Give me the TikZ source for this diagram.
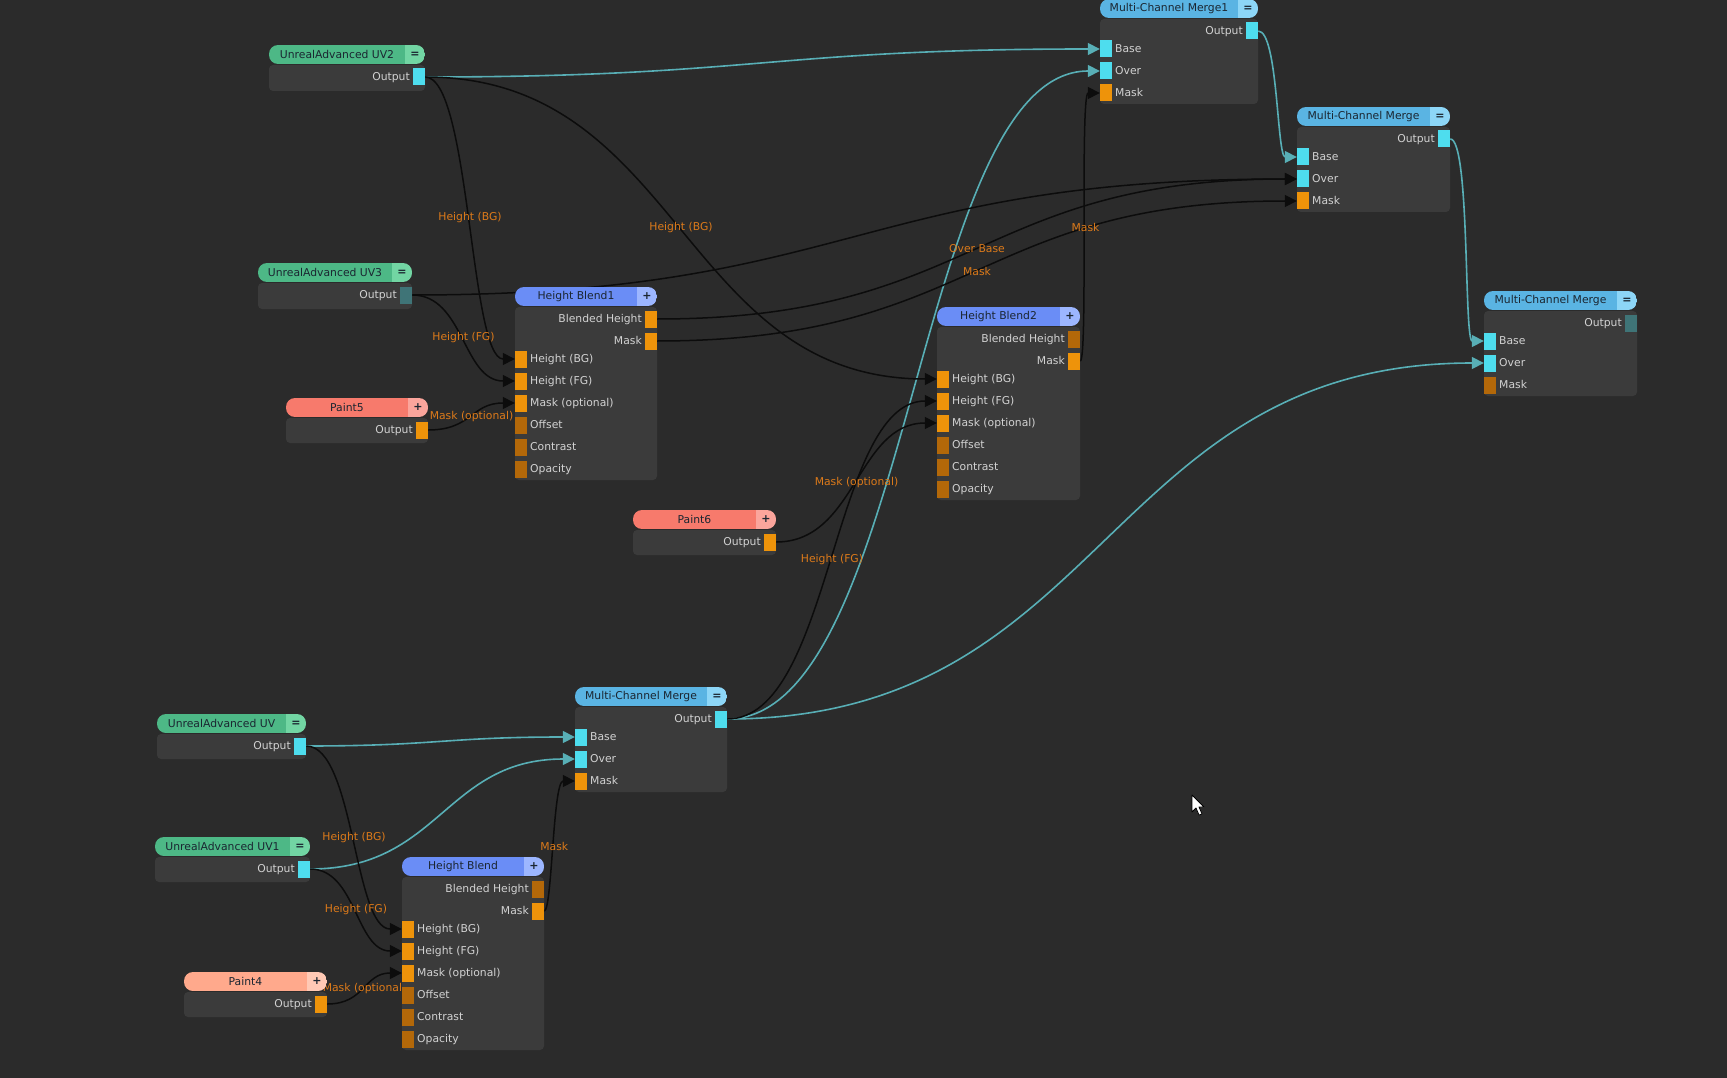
\documentclass[tikz,border=0pt]{standalone}
\usepackage{fontspec}
\setmainfont{DejaVu Sans}
\usetikzlibrary{arrows.meta}

\definecolor{canvas}{HTML}{2B2B2B}
\definecolor{nodebody}{HTML}{3B3B3B}
\definecolor{uvg}{HTML}{4DB886}
\definecolor{uvgL}{HTML}{72D5A3}
\definecolor{mcb}{HTML}{5AB4E3}
\definecolor{mcbL}{HTML}{8DD6F7}
\definecolor{hbp}{HTML}{6A8DF6}
\definecolor{hbpL}{HTML}{9CB6FF}
\definecolor{pnr}{HTML}{F77A6C}
\definecolor{pnrL}{HTML}{FBA59C}
\definecolor{pnp}{HTML}{FFA98C}
\definecolor{pnpL}{HTML}{FFC9B5}
\definecolor{hdrtext}{HTML}{1B2631}
\definecolor{rowtext}{HTML}{D2D2D2}
\definecolor{portc}{HTML}{4EDDEE}
\definecolor{portcd}{HTML}{3F7477}
\definecolor{porto}{HTML}{EE930A}
\definecolor{portod}{HTML}{B36809}
\definecolor{wireT}{HTML}{58AFB6}
\definecolor{wireK}{HTML}{0C0C0C}
\definecolor{lblo}{HTML}{DC7A1A}

\pgfdeclarelayer{bg}
\pgfdeclarelayer{wires}
\pgfsetlayers{bg,wires,main}

\begin{document}
\begin{tikzpicture}[x=1pt,y=-1pt,line cap=round,
  hdr/.style={font=\fontsize{10.8}{12}\selectfont,text=hdrtext,inner sep=0},
  sym/.style={font=\fontsize{11}{12}\selectfont\bfseries,text=hdrtext,inner sep=0},
  rowtxt/.style={font=\fontsize{10.8}{12}\selectfont,text=rowtext,inner sep=0,text height=7.8pt,text depth=0.5pt},
  port/.style={draw=none,minimum width=12,minimum height=17,inner sep=0},
  lbl/.style={font=\fontsize{10.8}{12}\selectfont,text=lblo,inner sep=0},
  wirecyan/.style={draw=wireT,line width=1.6pt,-{Triangle[length=12pt,width=12pt]}},
  wireblack/.style={draw=wireK,line width=1.5pt,-{Triangle[length=12pt,width=12pt]}}]
  \useasboundingbox (0,0) rectangle (1727,1078);
  \begin{pgfonlayer}{bg}
    \fill[canvas] (0,0) rectangle (1727,1078);
  \end{pgfonlayer}

  % ---------------- node bodies and headers ----------------
  \foreach \n/\L/\T/\R/\h/\ca/\cb/\s/\t in {
      uvB/269/45/425/46/uvg/uvgL/=/UnrealAdvanced UV2,
      uvC/258/263/412/46/uvg/uvgL/=/UnrealAdvanced UV3,
      uvO/157/714/306/45/uvg/uvgL/=/UnrealAdvanced UV,
      uvA/155/837/310/45/uvg/uvgL/=/UnrealAdvanced UV1,
      pnE/286/398/428/45/pnr/pnrL/+/Paint5,
      pnF/633/510/776/45/pnr/pnrL/+/Paint6,
      pnD/184/972/327/45/pnp/pnpL/+/Paint4,
      hbA/515/287/657/193/hbp/hbpL/+/Height Blend1,
      hbB/937/307/1080/193/hbp/hbpL/+/Height Blend2,
      hbC/402/857/544/193/hbp/hbpL/+/Height Blend,
      mcA/1100/-1/1258/105/mcb/mcbL/=/Multi-Channel Merge1,
      mcF/1297/107/1450/105/mcb/mcbL/=/Multi-Channel Merge,
      mcG/1484/291/1637/105/mcb/mcbL/=/Multi-Channel Merge,
      mcJ/575/687/727/105/mcb/mcbL/=/Multi-Channel Merge}
    {\fill[nodebody,rounded corners=4] (\L,\T+20) rectangle (\R,\T+\h);
     \begin{scope}
       \clip[rounded corners=9] (\L,\T) rectangle (\R,\T+19);
       \fill[\ca] (\L,\T) rectangle (\R-20,\T+19);
       \fill[\cb] (\R-20,\T) rectangle (\R,\T+19);
     \end{scope}
     \node[hdr] (\n) at ({(\L+\R-20)/2},\T+9.5) {\t};
     \node[sym] (\n-sym) at (\R-10,\T+9.5) {\s};}

  % ---------------- single output nodes ----------------
  \foreach \n/\R/\T/\pc in {uvB/425/45/portc,uvC/412/263/portcd,uvO/306/714/portc,
      uvA/310/837/portc,pnE/428/398/porto,pnF/776/510/porto,pnD/327/972/porto}
    {\node[port,fill=\pc] (\n-out) at (\R-6,\T+32) {};
     \node[rowtxt,anchor=east] (\n-outl) at (\R-15,\T+32) {Output};}

  % ---------------- height blend ports ----------------
  \foreach \n/\L/\T/\R/\bc in {hbA/515/287/657/porto,hbB/937/307/1080/portod,hbC/402/857/544/portod}
    {\node[port,fill=\bc] (\n-bh) at (\R-6,\T+32) {};
     \node[rowtxt,anchor=east] (\n-bhl) at (\R-15,\T+32) {Blended Height};
     \node[port,fill=porto] (\n-mk) at (\R-6,\T+54) {};
     \node[rowtxt,anchor=east] (\n-mkl) at (\R-15,\T+54) {Mask};
     \foreach \p/\o/\pc/\t in {bg/72/porto/Height (BG),fg/94/porto/Height (FG),
         mo/116/porto/Mask (optional),of/138/portod/Offset,ct/160/portod/Contrast,op/182/portod/Opacity}
       {\node[port,fill=\pc] (\n-\p) at (\L+6,\T+\o) {};
        \node[rowtxt,anchor=west] (\n-\p l) at (\L+15,\T+\o) {\t};}}

  % ---------------- multi-channel merge ports ----------------
  \foreach \n/\L/\T/\R/\oc/\mc in {mcA/1100/-1/1258/portc/porto,mcF/1297/107/1450/portc/porto,
      mcG/1484/291/1637/portcd/portod,mcJ/575/687/727/portc/porto}
    {\node[port,fill=\oc] (\n-out) at (\R-6,\T+32) {};
     \node[rowtxt,anchor=east] (\n-outl) at (\R-15,\T+32) {Output};
     \foreach \p/\o/\pc/\t in {base/50/portc/Base,over/72/portc/Over,mask/94/\mc/Mask}
       {\node[port,fill=\pc] (\n-\p) at (\L+6,\T+\o) {};
        \node[rowtxt,anchor=west] (\n-\p l) at (\L+15,\T+\o) {\t};}}

  % ---------------- wires (behind the nodes) ----------------
  \begin{pgfonlayer}{wires}
    \foreach \a/\b/\k in {uvB-out/mcA-base/330,mcA-out/mcF-base/20,mcF-out/mcG-base/20,
        mcJ-out/mcA-over/185,mcJ-out/mcG-over/380,uvO-out/mcJ-base/130,uvA-out/mcJ-over/130}
      \draw[wirecyan] (\a.east) .. controls +(\k,0) and +(-\k,0) .. (\b.west);
    \draw[wireblack] (uvC-out.east) .. controls +(440,0) and +(-440,0) .. (mcF-over.west);
    \foreach \a/\b/\k/\j/\t in {
        uvB-out/hbA-bg/45/45/Height (BG),
        uvB-out/hbB-bg/256/256/Height (BG),
        uvC-out/hbA-fg/52/52/Height (FG),
        pnE-out/hbA-mo/44/44/Mask (optional),
        hbA-bh/mcF-over/320/320/Over Base,
        hbA-mk/mcF-mask/320/320/Mask,
        hbB-mk/mcA-mask/8/20/Mask,
        mcJ-out/hbB-fg/105/105/Height (FG),
        pnF-out/hbB-mo/80/80/Mask (optional),
        uvO-out/hbC-bg/48/48/Height (BG),
        uvA-out/hbC-fg/46/46/Height (FG),
        pnD-out/hbC-mo/38/38/Mask (optional),
        hbC-mk/mcJ-mask/8/22/Mask}
      \draw[wireblack] (\a.east) .. controls +(\k,0) and +(-\j,0) .. (\b.west)
        node[lbl,pos=.5] (\b-lbl) {\t};
  \end{pgfonlayer}

  % mouse pointer
  \filldraw[fill=white,draw=black,line width=0.8pt,line join=round]
    (1192,795) -- (1192,812) -- (1196,808) -- (1199,815) -- (1202,814) -- (1199,807) -- (1204,807) -- cycle;
\end{tikzpicture}
\end{document}
